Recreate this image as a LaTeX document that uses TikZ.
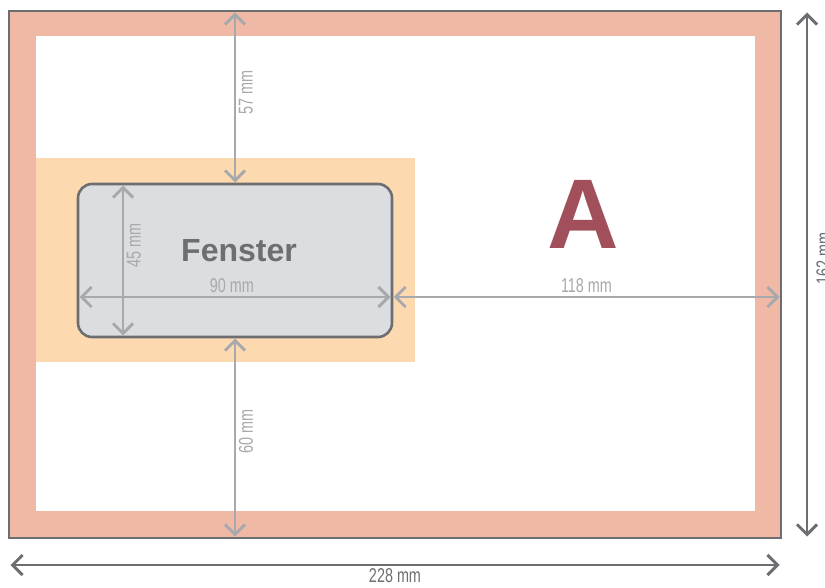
\documentclass[tikz,border=0pt]{standalone}
\usepackage{fontspec}
\setmainfont{Liberation Sans}
\newfontfamily\dimfont[FakeStretch=0.72]{Liberation Sans}
\usetikzlibrary{arrows.meta}

\definecolor{rim}{HTML}{F0B9A5}
\definecolor{peach}{HTML}{FDD9B0}
\definecolor{pane}{HTML}{DCDDE0}
\definecolor{ink}{HTML}{6D6E71}
\definecolor{dimline}{HTML}{A7A9AC}
\definecolor{wine}{HTML}{A1505B}

\begin{document}
\begin{tikzpicture}[x=1pt,y=-1pt,
    panel/.style={inner sep=0pt,outer sep=0pt},
    dim/.style={draw=dimline,line width=2.9pt,shorten >=1.5pt,shorten <=1.5pt,
      {Straight Barb[length=10pt,width=20pt]}-{Straight Barb[length=10pt,width=20pt]}},
    outer dim/.style={dim,draw=ink},
    dim label/.style={font=\dimfont\fontsize{20}{20}\selectfont,text=dimline,inner sep=2.5pt},
    vert label/.style={dim label,rotate=90,anchor=north}]

  \useasboundingbox (0,0) rectangle (825,588);

  % sheet and window
  \node[panel,draw=ink,fill=rim,line width=2.6pt,minimum width=772pt,minimum height=527pt] (envelope) at (395,274.5) {};
  \node[panel,fill=white,minimum width=719pt,minimum height=475pt] (field) at (395.5,273.5) {};
  \node[panel,fill=peach,minimum width=379pt,minimum height=204pt] (zone) at (225.5,260) {};
  \node[panel,draw=ink,fill=pane,line width=2.6pt,rounded corners=14pt,minimum width=314pt,minimum height=153pt] (window) at (235,260.5) {};

  \node[font=\bfseries\fontsize{32}{32}\selectfont,text=ink] (name) at (239,251) {Fenster};
  \node[font=\bfseries\fontsize{99}{99}\selectfont,text=wine] (letter) at (583,214) {A};

  % measures
  \draw[dim] (window.north |- envelope.north) -- node[vert label,pos=0.47] {57 mm} (window.north);
  \draw[dim] (window.south) -- node[vert label,pos=0.47] {60 mm} (window.south |- envelope.south);
  \draw[dim] ([xshift=45pt]window.north west) -- node[vert label,pos=0.4] {45 mm} ([xshift=45pt]window.south west);
  \draw[dim] ([yshift=-36.5pt]window.west) -- node[dim label,above,pos=0.49] {90 mm} ([yshift=-36.5pt]window.east);
  \draw[dim] ([yshift=-36.5pt]window.east) -- node[dim label,above] {118 mm} ([yshift=-36.5pt]window.east -| envelope.east);
  \draw[outer dim] ([xshift=26pt]envelope.north east) -- node[vert label,text=ink,pos=0.47,inner sep=8pt] {162 mm} ([xshift=26pt]envelope.south east);
  \draw[outer dim] ([yshift=-27pt]envelope.south west) -- node[dim label,below,text=ink] {228 mm} ([yshift=-27pt]envelope.south east);
\end{tikzpicture}
\end{document}
